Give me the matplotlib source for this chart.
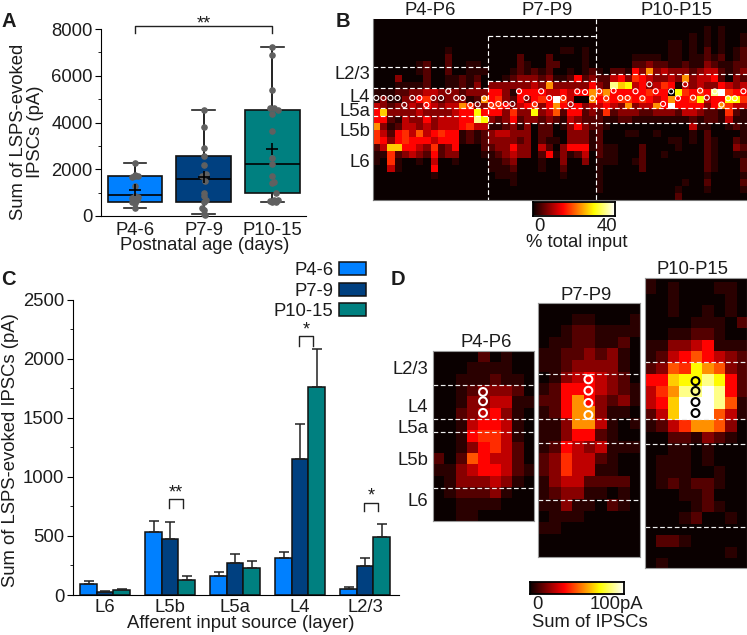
import numpy as np
import matplotlib
matplotlib.use('Agg')
import matplotlib.pyplot as plt

plt.rcParams['font.family'] = ['Liberation Sans', 'DejaVu Sans']
plt.rcParams['font.size'] = 13.3
plt.rcParams['text.color'] = '#1c1c1c'
plt.rcParams['xtick.labelcolor'] = '#1c1c1c'
plt.rcParams['ytick.labelcolor'] = '#1c1c1c'

# panel A
ages = ['P4-6', 'P7-9', 'P10-15']
age_colors = ['#0080ff', '#004080', '#008080']
whisker_low = [350, 100, 600]
whisker_high = [2250, 4530, 7250]
q1 = [620, 620, 1000]
median = [880, 1570, 2240]
q3 = [1720, 2550, 4550]
mean = [1130, 1680, 2880]
points_p4 = [350, 550, 620, 700, 750, 800, 850, 1280, 1650, 1700, 1720, 1750, 2250]
shift_p4 = [0, 0, -.05, .03, -.04, .05, 0, 0, -.05, 0, .05, 0, 0]
points_p7 = [50, 100, 250, 350, 620, 700, 850, 1000, 1500, 1700, 1800, 2170, 2550, 2900, 3800, 4530]
shift_p7 = [.02, 0, 0, -.02, 0, .03, 0, 0, .02, -.03, .03, 0, 0, 0, 0, 0]
points_p10 = [600, 620, 650, 680, 700, 1000, 1400, 1450, 1700, 2240, 2500, 3650, 4350, 4550, 4600, 4620, 5400, 6900, 7250]
shift_p10 = [0, .05, -.04, .08, .03, .05, 0, .03, 0, 0, 0, 0, 0, .08, -.04, .03, 0, 0, 0]

# panel C
layers = ['L6', 'L5b', 'L5a', 'L4', 'L2/3']
sum_p4 = [90, 530, 165, 310, 50]
sum_p7 = [25, 470, 270, 1155, 245]
sum_p10 = [45, 125, 230, 1760, 490]
err_p4 = [30, 95, 30, 50, 20]
err_p7 = [10, 150, 80, 295, 70]
err_p10 = [10, 35, 55, 325, 110]

# panel B, hex digits are colour levels, one string per row
b_p4 = ['0' * 16, '0' * 16, '0' * 16, '0' * 16,
        '0000000000100000', '0000000000200000', '0000001200200110', '0000001200200111',
        '0003000200112120', '0001111200112130', '1112233443332333', '1311335632333127',
        '4323343543447633', '5a33334333345585', '5521433534445 5b8'.replace(' ', ''), '7312443434445644',
        '642564c456551212', '6535655545551212', '24aa554362350002', '1162343252330001',
        '1061001040010000', '0041000050000000', '0000000010000000',
        '0' * 16, '0' * 16, '0' * 16]
b_p7 = ['0' * 15, '0' * 15, '0' * 15, '0' * 15,
        '000000000011010', '000020002000010', '000021002200010', '000121212001012',
        '001233323112523', '333333437333335', '553155554454557', '563253565964007',
        '665345635754534', '553633834c25523', '323523323214322', '112313022013532',
        '344333022003331', '333323021103331', '233533042035551', '123433025131240',
        '112300010030030', '111200010020000', '011100000010000', '000100000000000',
        '0' * 15, '0' * 15]
b_p10 = ['0' * 21, '000000000000000101000', '000000000000010101001', '000000000011010101001',
         '000000000011010201012', '000001111011011212012', '000002232211211321122', '102215373433323442123',
         '224536543343734452032', '32ba84534651434335434', '6755555655086565b9655', '565665654575568455886',
         '45437344759555535 7644'.replace(' ', ''), '262333223332443221621', '211221111111121221411', '210000000000041100121',
         '200011001000010200001', '200000000011010210021', '211000200001000210032', '211000200100000210011',
         '111001200000000210002', '100000200000000210002', '100000000000000100001', '100000000000100200002',
         '100000000001000100001', '000000000002000000000']
b_cols = [.46, 1.45, 2.43, 3.41, 5.46, 6.45, 8.39, 9.46, 11.58, 12.47, 4.35, 7.42, 10.47, 13.53, 14.55, 15.47,
          16.4, 17.43, 18.45, 19.38, 20.3, 21.33, 22.5, 23.38, 24.5, 26.45, 27.48, 28.4, 29.48, 30.5,
          31.45, 32.42, 33.45, 34.38, 35.4, 36.5, 37.45, 38.42, 39.3, 40.33, 41.45, 42.4, 43.4, 44.5,
          45.48, 46.4, 47.52, 48.45, 49.38, 50.3, 51.5]
b_rows = [11.34, 11.34, 11.34, 11.34, 11.34, 11.34, 11.34, 11.34, 11.34, 11.34, 12.34, 12.34, 10.38, 12.34, 12.25, 11.39,
          12.34, 12.2, 12.2, 12.2, 10.38, 11.34, 12.25, 10.38, 11.34, 11.34, 12.25, 10.4, 10.5, 11.39,
          10.38, 11.39, 10.29, 11.34, 11.34, 10.38, 11.39, 9.38, 10.38, 12.2, 10.4, 11.39, 9.38, 11.3,
          10.29, 11.3, 10.4, 12.3, 11.39, 11.39, 10.38]

# panel D
d_p4 = ['000020100', '000111100', '001112110', '001233320', '001334411', '002345310', '001455410',
        '001566410', '001356420', '202c54420', '113455421', '013334310', '012223100', '001111000', '001100000']
d_p7 = ['000000000', '000110001', '001221111', '011221120', '112232310', '112333310', '013454320',
        '125554321', '225753231', '125773110', '113774101', '113552100', '125434111', '236442100',
        '236441100', '134422220', '123311010', '113110210', '011100000', '110000000', '000000000', '000000000']
d_p10 = ['100000000', '101000110', '001000010', '001001010', '000011102', '001122100', '113345111',
         '1245c5432', '23c687c32', '55a88b852', '467bb9b52', '45a999bc1', '24a999c41', '124677c30',
         '002213210', '001101000', '011101000', '011100100', '012122100', '000112000', '000012100',
         '000120010', '000000000', '022100000', '000000010', '010000000']
d_p4_rows = [3.62, 4.44, 5.47]
d_p7_rows = [6.63, 7.61, 8.67, 9.71]
d_p10_rows = [9.6, 10.46, 11.42, 12.38]

# fraction of the colour scale for levels 0-9, a (gold), b (pale), c (orange red)
level_frac = np.array([0, .05, .11, .19, .27, .37, .43, .58, .74, 1.0, .67, .88, .49])
W, H = 747, 635


def px_axes(x0, y0, x1, y1):
    return fig.add_axes([x0 / W, 1 - y1 / H, (x1 - x0) / W, (y1 - y0) / H])


def px_text(x, y, s, **kw):
    kw.setdefault('ha', 'center')
    kw.setdefault('va', 'center')
    fig.text(x / W, 1 - (y + 1.5) / H, s, **kw)


def decode(rows):
    return level_frac[np.array([[int(c, 16) for c in r] for r in rows])]


def dash(ax, x0, x1, y0, y1, color='white', lw=.85):
    ax.plot([x0, x1], [y0, y1], color=color, lw=lw, ls=(0, (4, 2.2)))


fig = plt.figure(figsize=(W / 100, H / 100), dpi=100)

# A
ax = px_axes(101, 29, 306, 216)
stats = []
for i in range(3):
    stats.append({'whislo': whisker_low[i], 'q1': q1[i], 'med': median[i], 'q3': q3[i],
                  'whishi': whisker_high[i], 'fliers': []})
bp = ax.bxp(stats, positions=[1, 2, 3], widths=.8, patch_artist=True, showfliers=False,
            medianprops={'color': 'black', 'lw': 1.2}, whiskerprops={'color': '#222222', 'lw': 1.4},
            capprops={'color': '#222222', 'lw': 1.2}, boxprops={'edgecolor': '#111111', 'lw': 1.2}, capwidths=.33)
for box, c in zip(bp['boxes'], age_colors):
    box.set_facecolor(c)
all_points = [points_p4, points_p7, points_p10]
all_shift = [shift_p4, shift_p7, shift_p10]
for i in range(3):
    ax.scatter(np.array(all_shift[i]) + i + 1, all_points[i], s=14, color='#606060', zorder=4, clip_on=False)
ax.plot([1, 2, 3], mean, ls='none', marker='+', ms=9, mew=1.2, color='black', zorder=5)
ax.plot([1, 1, 3, 3], [7830, 8130, 8130, 7830], color='#222222', lw=1, clip_on=False)
ax.text(2, 8230, '**', ha='center', va='center', fontsize=13)
ax.set_xlim(.505, 3.49)
ax.set_ylim(0, 8000)
ax.set_xticks([1, 2, 3], ages)
ax.set_yticks([0, 2000, 4000, 6000, 8000])
ax.set_yticks([1000, 3000, 5000, 7000], minor=True)
ax.tick_params(axis='x', length=0, pad=4)
ax.tick_params(axis='y', length=4, pad=2)
ax.tick_params(axis='y', which='minor', length=2.5)
ax.spines[['top', 'right']].set_visible(False)
px_text(205, 243.5, 'Postnatal age (days)')
px_text(27, 130, 'Sum of LSPS-evoked\nIPSCs (pA)', rotation=90, linespacing=1.0)

# B
ax = px_axes(373, 19, 747, 200)
img = np.hstack([decode(b_p4), decode(b_p7), decode(b_p10)])
ax.imshow(img, cmap='hot', vmin=0, vmax=1, extent=(0, 52, 26, 0), aspect='auto', interpolation='nearest')
ax.scatter(b_cols, b_rows, s=13, facecolors='none', edgecolors='white', linewidths=.8, zorder=3)
dash(ax, 0, 16, 6.85, 6.85)
dash(ax, 0, 52, 12.83, 12.83)
dash(ax, 0, 16, 9.96, 9.96)
dash(ax, 0, 16, 13.87, 13.87)
dash(ax, 16, 31, 2.44, 2.44)
dash(ax, 16, 31, 8.95, 8.95)
dash(ax, 16, 52, 14.94, 14.94)
dash(ax, 31, 52, 7.83, 7.83)
dash(ax, 16, 16, 2.44, 26)
dash(ax, 31, 31, 0, 26)
ax.set_xlim(0, 52)
ax.set_ylim(26, 0)
ax.set_xticks([])
ax.set_yticks([])
for s in ax.spines.values():
    s.set_color('#777777')
ax.spines[['top', 'right']].set_visible(False)
for x, s in zip([430, 547, 676], ['P4-P6', 'P7-P9', 'P10-P15']):
    px_text(x, 9, s)
for y, s in zip([73, 96, 110, 130, 161], ['L2/3', 'L4', 'L5a', 'L5b', 'L6']):
    px_text(370, y, s, ha='right')

gradient = np.linspace(0, 1, 256).reshape(1, -1)
cb = px_axes(533, 202, 614.5, 215.5)
cb.imshow(gradient, cmap='hot', aspect='auto')
cb.set_xticks([])
cb.set_yticks([])
for s in cb.spines.values():
    s.set_linewidth(1.3)
px_text(539, 225, '0')
px_text(607, 225, '40')
px_text(577, 241, '% total input')

# C
ax = px_axes(72.7, 299.7, 399, 595)
x = np.arange(5)
bar_w = .254
series = [sum_p4, sum_p7, sum_p10]
errs = [err_p4, err_p7, err_p10]
for i in range(3):
    xpos = x + (i - 1) * bar_w
    ax.bar(xpos, series[i], bar_w, color=age_colors[i], edgecolor='#111111', lw=1.1, label=ages[i])
    ax.errorbar(xpos, series[i], yerr=[np.zeros(5), errs[i]], fmt='none', ecolor='#222222', elinewidth=1.1,
                capsize=3.4, capthick=1.1)
for g, lo, hi, star in [(1, 736, 812, '**'), (3, 2110, 2190, '*'), (4, 707, 783, '*')]:
    ax.plot([g - .02, g - .02, g + .2, g + .2], [lo, hi, hi, lo], color='#222222', lw=1, clip_on=False)
    ax.text(g + .09, hi + 55, star, ha='center', va='center', fontsize=13)
ax.set_xlim(-.5, 4.52)
ax.set_ylim(0, 2500)
ax.set_xticks(x, layers)
ax.set_yticks(np.arange(0, 2501, 500))
ax.set_yticks(np.arange(250, 2500, 500), minor=True)
ax.tick_params(axis='x', length=0, pad=3)
ax.tick_params(axis='y', length=4, pad=2)
ax.tick_params(axis='y', which='minor', length=2.5)
ax.spines[['top', 'right']].set_visible(False)
ax.legend(loc='upper right', bbox_to_anchor=(366 / W, 1 - 262 / H), bbox_transform=fig.transFigure, frameon=False,
          markerfirst=False, borderpad=0, borderaxespad=0, handlelength=1.47, handleheight=.7, labelspacing=.2,
          handletextpad=.3)
px_text(241, 622, 'Afferent input source (layer)')
px_text(10.5, 449, 'Sum of LSPS-evoked IPSCs (pA)', rotation=90)

# D
maps = [(d_p4, d_p4_rows, 4.47, 'white', (432.7, 351, 534, 520.7), (0, 15), [3, 6.03, 7.15, 12.1]),
        (d_p7, d_p7_rows, 4.46, 'white', (537.7, 302.7, 640, 557), (0, 22), [6.17, 10.09, 12.16, 17.06]),
        (d_p10, d_p10_rows, 4.47, 'black', (644.7, 277.7, 747, 567.7), (.61, 25.83), [7.94, 12.93, 15.04, 22.3])]
for rows, circ, col, edge, box, lim, dashes in maps:
    ax = px_axes(*box)
    ax.imshow(decode(rows), cmap='hot', vmin=0, vmax=1, extent=(0, 9, len(rows), 0), aspect='auto',
              interpolation='nearest')
    ax.scatter([col] * len(circ), circ, s=32, facecolors='none', edgecolors=edge, linewidths=1.5, zorder=3)
    for d in dashes:
        dash(ax, 0, 9, d, d, color='#eeeeee')
    ax.set_xlim(0, 9)
    ax.set_ylim(lim[1], lim[0])
    ax.set_xticks([])
    ax.set_yticks([])
    for s in ax.spines.values():
        s.set_color('#999999')
for cx, y, s in zip([486, 586, 693], [341, 294, 268], ['P4-P6', 'P7-P9', 'P10-P15']):
    px_text(cx, y, s)
for y, s in zip([368, 406, 427, 459, 500], ['L2/3', 'L4', 'L5a', 'L5b', 'L6']):
    px_text(428, y, s, ha='right')
cb = px_axes(529.5, 582, 623.5, 594)
cb.imshow(gradient, cmap='hot', aspect='auto')
cb.set_xticks([])
cb.set_yticks([])
for s in cb.spines.values():
    s.set_linewidth(1.3)
px_text(537, 603, '0')
px_text(616, 603, '100pA')
px_text(590, 621, 'Sum of IPSCs')

for x0, y0, s in [(9, 20, 'A'), (343, 20, 'B'), (8, 278, 'C'), (398, 278, 'D')]:
    px_text(x0, y0, s, fontweight='bold', fontsize=14.5)

fig.savefig('out.png', dpi=100)
